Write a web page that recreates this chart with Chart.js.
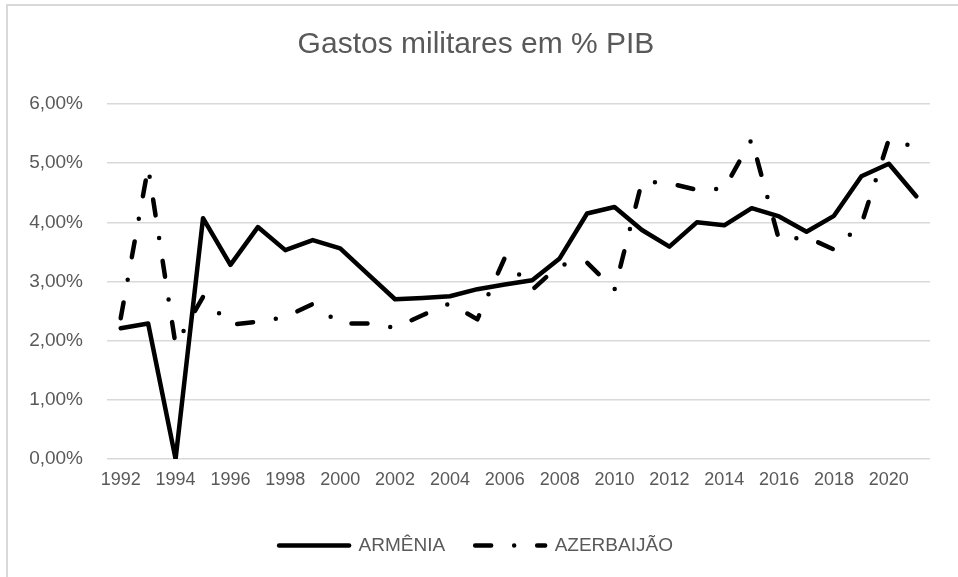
<!DOCTYPE html>
<html>
<head>
<meta charset="utf-8">
<title>Gastos militares em % PIB</title>
<script src="https://cdn.jsdelivr.net/npm/chart.js@4/dist/chart.umd.min.js"></script>
<style>
  html, body { margin: 0; padding: 0; background: #fff; }
  .container { position: relative; width: 958px; height: 577px; overflow: hidden; }
  .frame { position: absolute; left: 6px; top: 4px; width: 1000px; height: 600px;
           border-top: 2px solid #d9d9d9; border-left: 2px solid #d9d9d9; }
  #chartJs { position: absolute; left: 0; top: 0; width: 958px; height: 577px; }
</style>
</head>
<body>
<div class="container">
  <div class="frame"></div>
  <div id="chartJs"></div>
</div>
<script>
// dados
const anos = ["1992","1993","1994","1995","1996","1997","1998","1999","2000","2001",
              "2002","2003","2004","2005","2006","2007","2008","2009","2010","2011",
              "2012","2013","2014","2015","2016","2017","2018","2019","2020","2021"];
const armenia = [2.21,2.29,0.00,4.07,3.28,3.92,3.53,3.70,3.56,3.13,
                 2.70,2.72,2.75,2.87,2.95,3.02,3.39,4.15,4.26,3.87,
                 3.59,4.00,3.95,4.24,4.10,3.84,4.11,4.78,4.99,4.44];
const azerbaijao = [2.38,4.93,1.93,2.74,2.27,2.32,2.40,2.62,2.29,2.29,
                    2.22,2.43,2.63,2.36,3.40,2.86,3.28,3.32,2.86,4.69,
                    4.66,4.55,4.57,5.40,3.70,3.75,3.54,3.97,5.40,5.27];
const yMin = 0;
const yMax = 6;
const yStep = 1;

const cinza = '#595959';
const fonte = "'Liberation Sans', Arial, sans-serif";

// legenda com o mesmo tracejado das linhas
function legendLabels(chart){
    const items = Chart.defaults.plugins.legend.labels.generateLabels(chart);
    for(let item of items){
        const ds = chart.data.datasets[item.datasetIndex];
        item.lineDash = ds.borderDash || [];
        item.lineCap = 'round';
        item.lineWidth = ds.borderWidth;
    }
    return items;
}

const config = {
    type: 'line',
    data: {
      labels: anos,
      datasets: [{
        label: 'ARMÊNIA',
        data: armenia,
        borderColor: '#000',
        backgroundColor: '#000',
        borderWidth: 4.5,
        borderCapStyle: 'round',
        borderJoinStyle: 'round',
        pointRadius: 0,
        tension: 0
      }, {
        label: 'AZERBAIJÃO',
        data: azerbaijao,
        borderColor: '#000',
        backgroundColor: '#000',
        borderWidth: 4.5,
        borderDash: [16, 23, 0, 23],
        borderCapStyle: 'round',
        borderJoinStyle: 'round',
        pointRadius: 0,
        tension: 0
      }]
    },
    options: {
      responsive: false,
      animation: false,
      layout: { padding: { left: 22, right: 28, top: 0, bottom: 12 } },
      plugins: {
        title: {
          display: true,
          text: 'Gastos militares em % PIB',
          color: cinza,
          font: { family: fonte, size: 30, weight: 'normal' },
          padding: { top: 27, bottom: 41 }
        },
        legend: {
          position: 'bottom',
          labels: {
            color: cinza,
            font: { family: fonte, size: 19 },
            usePointStyle: true,
            pointStyle: 'line',
            pointStyleWidth: 70,
            padding: 30,
            generateLabels: legendLabels
          }
        },
        tooltip: { enabled: false }
      },
      scales: {
        x: {
          offset: true,
          grid: { display: false, drawTicks: false, tickLength: 0 },
          border: { display: false },
          afterFit: function(scale) { scale.height = 47; },
          ticks: {
            color: cinza,
            font: { family: fonte, size: 18 },
            autoSkip: false,
            maxRotation: 0,
            padding: 10,
            callback: function(value, index) {
              return index % 2 === 0 ? anos[index] : '';
            }
          }
        },
        y: {
          min: yMin,
          max: yMax,
          grid: { color: '#d9d9d9', lineWidth: 1.5, drawTicks: false, tickLength: 0 },
          border: { display: false },
          afterFit: function(scale) { scale.width = 85; },
          ticks: {
            stepSize: yStep,
            color: cinza,
            font: { family: fonte, size: 19 },
            padding: 24,
            callback: function(value) {
              return value.toFixed(2).replace('.', ',') + '%';
            }
          }
        }
      }
    }
};

const chartJs = document.querySelector('#chartJs');
const myCanvas = document.createElement('canvas');
myCanvas.width = 958;
myCanvas.height = 577;
chartJs.appendChild(myCanvas);

new Chart(myCanvas, config);
</script>
</body>
</html>
